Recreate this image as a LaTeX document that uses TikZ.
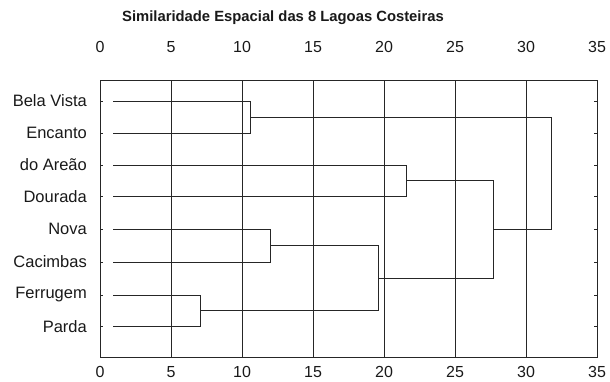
\documentclass[tikz,border=0pt]{standalone}
\usepackage{fontspec}
\setmainfont{Liberation Sans}
\begin{document}
\begin{tikzpicture}[x=1pt,y=-1pt,
  ln/.style={line width=0.8pt,draw=black!85},
  grid/.style={line width=0.7pt,draw=black!85},
  lab/.style={font=\fontsize{16.5}{18}\selectfont,anchor=east,inner sep=0pt,text=black!90},
  num/.style={font=\fontsize{16}{18}\selectfont,inner sep=0pt,text=black!90},
  ttl/.style={font=\bfseries\fontsize{14.8}{17}\selectfont,inner sep=0pt,text=black!90}]
\useasboundingbox (0,0) rectangle (610,381);
\node[ttl] (title) at (283,18) {Similaridade Espacial das 8 Lagoas Costeiras};
% labels
\node[lab] (nB) at (87,101) {Bela Vista};
\node[lab] (nE) at (87,133) {Encanto};
\node[lab] (nA) at (87,165) {do Areão};
\node[lab] (nD) at (87,197) {Dourada};
\node[lab] (nN) at (87,229) {Nova};
\node[lab] (nC) at (87,262) {Cacimbas};
\node[lab] (nF) at (87,295) {Ferrugem};
\node[lab] (nP) at (87,327) {Parda};
\begin{scope}[shift={(100,0)},x=14.2pt]
  % frame and grid
  \draw[grid] (0,80) rectangle (35,357);
  \foreach \v in {5,10,...,30} {\draw[grid] (\v,80) -- (\v,357);}
  \foreach \v in {0,5,...,35} {
    \node[num] (t\v) at (\v,47) {\v};
    \node[num] (b\v) at (\v,372) {\v};
  }
  \foreach \yy in {101,133,165,196,229,262,295,326} {
    \draw[grid] (0,\yy) -- (0.18,\yy);
    \draw[grid] (35,\yy) -- (34.82,\yy);
  }
  % leaves
  \coordinate (lB) at (0.95,101);
  \coordinate (lE) at (0.95,133);
  \coordinate (lA) at (0.95,165);
  \coordinate (lD) at (0.95,196);
  \coordinate (lN) at (0.95,229);
  \coordinate (lC) at (0.95,262);
  \coordinate (lF) at (0.95,295);
  \coordinate (lP) at (0.95,326);
  % merges
  \coordinate (m1) at (10.6,117);
  \coordinate (m2) at (21.6,180.5);
  \coordinate (m3) at (12.0,245.5);
  \coordinate (m4) at (7.1,310.5);
  \coordinate (m5) at (19.6,278);
  \coordinate (m6) at (27.7,229);
  \coordinate (m7) at (31.8,173);
  \draw[ln] (lB) -| (m1); \draw[ln] (lE) -| (m1);
  \draw[ln] (lA) -| (m2); \draw[ln] (lD) -| (m2);
  \draw[ln] (lN) -| (m3); \draw[ln] (lC) -| (m3);
  \draw[ln] (lF) -| (m4); \draw[ln] (lP) -| (m4);
  \draw[ln] (m3) -| (m5); \draw[ln] (m4) -| (m5);
  \draw[ln] (m2) -| (m6); \draw[ln] (m5) -| (m6);
  \draw[ln] (m1) -| (m7); \draw[ln] (m6) -| (m7);
\end{scope}
\end{tikzpicture}
\end{document}
